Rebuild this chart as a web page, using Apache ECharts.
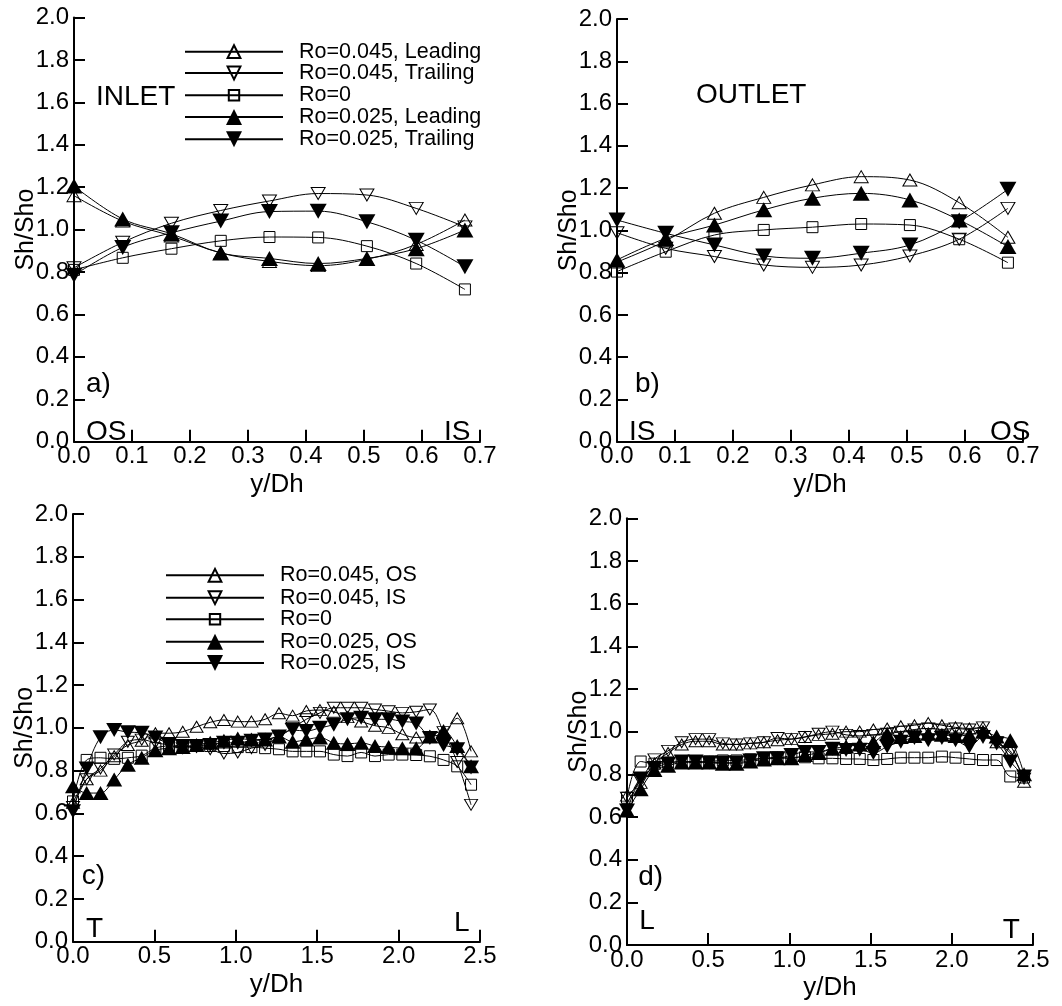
<!DOCTYPE html>
<html><head><meta charset="utf-8">
<script src="https://cdn.jsdelivr.net/npm/echarts@6/dist/echarts.min.js"></script>
<style>html,body{margin:0;padding:0;background:#fff}#c{width:1062px;height:1006px}</style>
</head><body><div id="c"></div><script>
// ---------- data ----------
const xAB = [0, 0.084, 0.168, 0.253, 0.337, 0.421, 0.505, 0.59, 0.674];
const xCD = [0, 0.084, 0.169, 0.253, 0.337, 0.422, 0.506, 0.590, 0.674, 0.759, 0.843, 0.927, 1.012, 1.096, 1.180,
             1.265, 1.349, 1.433, 1.517, 1.602, 1.686, 1.770, 1.855, 1.939, 2.023, 2.108, 2.192, 2.276, 2.360, 2.445];

const namesAB = ['Ro=0.045, Leading', 'Ro=0.045, Trailing', 'Ro=0', 'Ro=0.025, Leading', 'Ro=0.025, Trailing'];
const namesCD = ['Ro=0.045, OS', 'Ro=0.045, IS', 'Ro=0', 'Ro=0.025, OS', 'Ro=0.025, IS'];

// panel a (INLET)
const a045L = [1.16, 1.04, 0.97, 0.89, 0.85, 0.83, 0.86, 0.93, 1.045];
const a045T = [0.82, 0.94, 1.03, 1.09, 1.135, 1.17, 1.163, 1.10, 1.013];
const a0    = [0.81, 0.867, 0.91, 0.947, 0.965, 0.963, 0.922, 0.84, 0.718];
const a025L = [1.205, 1.05, 0.98, 0.89, 0.864, 0.84, 0.864, 0.91, 0.998];
const a025T = [0.785, 0.916, 0.985, 1.04, 1.085, 1.087, 1.037, 0.95, 0.825];

// panel b (OUTLET)
const b045L = [0.85, 0.95, 1.081, 1.156, 1.215, 1.254, 1.238, 1.131, 0.967];
const b045T = [0.989, 0.915, 0.876, 0.836, 0.825, 0.836, 0.879, 0.958, 1.104];
const b0    = [0.805, 0.899, 0.978, 1.002, 1.015, 1.03, 1.025, 0.958, 0.847];
const b025L = [0.86, 0.962, 1.025, 1.097, 1.152, 1.175, 1.144, 1.049, 0.923];
const b025T = [1.049, 0.986, 0.931, 0.879, 0.868, 0.892, 0.931, 1.041, 1.194];

// panel c
const c045OS = [0.65, 0.76, 0.80, 0.867, 0.92, 0.94, 0.975, 0.975, 0.982, 1.005, 1.026, 1.037, 1.029, 1.029, 1.04,
                1.068, 1.057, 1.079, 1.083, 1.075, 1.05, 1.03, 1.01, 1.0, 0.97, 0.955, 0.96, 0.975, 1.045, 0.89];
const c045IS = [0.63, 0.76, 0.81, 0.875, 0.935, 0.945, 0.93, 0.92, 0.905, 0.91, 0.9, 0.88, 0.885, 0.905, 0.92,
                0.96, 1.0, 1.04, 1.07, 1.094, 1.094, 1.094, 1.086, 1.078, 1.07, 1.075, 1.086, 0.98, 0.84, 0.64];
const c0     = [0.656, 0.85, 0.86, 0.855, 0.86, 0.87, 0.905, 0.915, 0.91, 0.915, 0.915, 0.915, 0.91, 0.91, 0.905,
                0.9, 0.89, 0.89, 0.89, 0.875, 0.868, 0.885, 0.868, 0.875, 0.875, 0.873, 0.867, 0.85, 0.82, 0.734];
const c025OS = [0.727, 0.695, 0.695, 0.758, 0.828, 0.86, 0.895, 0.905, 0.91, 0.92, 0.93, 0.94, 0.95, 0.945, 0.945,
                0.96, 0.935, 0.945, 0.955, 0.93, 0.925, 0.93, 0.915, 0.91, 0.905, 0.905, 0.96, 0.985, 0.915, 0.82];
const c025IS = [0.61, 0.81, 0.956, 0.99, 0.98, 0.977, 0.955, 0.925, 0.915, 0.915, 0.92, 0.93, 0.93, 0.94, 0.945,
                0.96, 0.99, 0.985, 1.0, 1.015, 1.04, 1.047, 1.04, 1.04, 1.03, 1.02, 0.953, 0.92, 0.9, 0.815];

// panel d
const d045OS = [0.7, 0.76, 0.85, 0.9, 0.94, 0.955, 0.955, 0.94, 0.94, 0.945, 0.95, 0.96, 0.965, 0.975, 0.985,
                0.99, 1.0, 1.0, 1.01, 1.015, 1.025, 1.03, 1.04, 1.03, 1.02, 1.015, 1.02, 0.95, 0.91, 0.765];
const d045IS = [0.69, 0.77, 0.87, 0.91, 0.95, 0.965, 0.965, 0.945, 0.94, 0.945, 0.95, 0.97, 0.965, 0.975, 0.99,
                1.0, 0.985, 0.98, 0.985, 0.99, 1.0, 1.01, 1.015, 1.01, 1.015, 1.01, 1.02, 0.95, 0.9, 0.78];
const d0     = [0.69, 0.86, 0.85, 0.855, 0.86, 0.86, 0.86, 0.865, 0.865, 0.87, 0.875, 0.88, 0.88, 0.88, 0.875,
                0.875, 0.872, 0.872, 0.867, 0.872, 0.878, 0.878, 0.878, 0.883, 0.878, 0.872, 0.867, 0.867, 0.79, 0.785];
const d025OS = [0.63, 0.73, 0.82, 0.84, 0.855, 0.855, 0.855, 0.85, 0.85, 0.86, 0.87, 0.875, 0.875, 0.89, 0.9,
                0.92, 0.93, 0.94, 0.95, 0.99, 0.975, 0.98, 0.99, 0.985, 0.98, 0.985, 1.0, 0.977, 0.96, 0.8];
const d025IS = [0.63, 0.78, 0.83, 0.85, 0.86, 0.86, 0.855, 0.855, 0.855, 0.865, 0.875, 0.875, 0.89, 0.905, 0.905,
                0.92, 0.914, 0.915, 0.9, 0.93, 0.953, 0.97, 0.96, 0.97, 0.96, 0.93, 0.975, 0.945, 0.86, 0.79];

const yTicksLabel = v => v.toFixed(1);

// ---------- styling ----------
const FONT = 'Liberation Sans, Arial, sans-serif';
const markAB = [
  {symbol: 'triangle', rot: 0,   fill: false, size: [14, 12], leg: 16},
  {symbol: 'triangle', rot: 180, fill: false, size: [14, 12], leg: 16},
  {symbol: 'rect',     rot: 0,   fill: false, size: [11, 11], leg: 13},
  {symbol: 'triangle', rot: 0,   fill: true,  size: [17, 15], leg: 20},
  {symbol: 'triangle', rot: 180, fill: true,  size: [17, 15], leg: 20}
];
const markCD = [
  {symbol: 'triangle', rot: 0,   fill: false, size: [13, 11], leg: 16},
  {symbol: 'triangle', rot: 180, fill: false, size: [13, 11], leg: 16},
  {symbol: 'rect',     rot: 0,   fill: false, size: [11, 11], leg: 13},
  {symbol: 'triangle', rot: 0,   fill: true,  size: [16, 14], leg: 20},
  {symbol: 'triangle', rot: 180, fill: true,  size: [16, 14], leg: 20}
];

const grids = [
  {left: 74,  top: 17.5,  width: 406, height: 424.2},
  {left: 617, top: 19,    width: 406, height: 422.7},
  {left: 73,  top: 514,   width: 407, height: 427.7},
  {left: 627, top: 518.3, width: 406, height: 426.7}
];

function xAxisCfg(gi, max, interval) {
  return {
    type: 'value', gridIndex: gi, min: 0, max: max, interval: interval,
    name: 'y/Dh', nameLocation: 'middle', nameGap: 30,
    nameTextStyle: {fontFamily: FONT, fontSize: 26, color: '#000'},
    axisLine: {show: true, onZero: false, lineStyle: {color: '#000', width: 2}},
    axisTick: {show: true, inside: true, length: 12, lineStyle: {color: '#000', width: 2}},
    axisLabel: {show: true, margin: 3, fontFamily: FONT, fontSize: 24, color: '#000',
                formatter: v => v.toFixed(1)},
    splitLine: {show: false}
  };
}
function yAxisCfg(gi) {
  return {
    type: 'value', gridIndex: gi, min: 0, max: 2, interval: 0.2,
    name: 'Sh/Sho', nameLocation: 'middle', nameGap: 35, nameMoveOverlap: false,
    nameTextStyle: {fontFamily: FONT, fontSize: 25, color: '#000'},
    axisLine: {show: true, onZero: false, lineStyle: {color: '#000', width: 2}},
    axisTick: {show: true, inside: true, length: 11, lineStyle: {color: '#000', width: 2}},
    axisLabel: {show: true, margin: 5, fontFamily: FONT, fontSize: 24, color: '#000',
                formatter: yTicksLabel},
    splitLine: {show: false}
  };
}

function mkSeries(gi, name, xs, ys, m) {
  return {
    type: 'line', name: name, xAxisIndex: gi, yAxisIndex: gi,
    data: xs.map((x, i) => [x, ys[i]]),
    smooth: 0.35,
    symbol: m.symbol, symbolSize: m.size, symbolRotate: m.rot, showAllSymbol: true,
    lineStyle: {color: '#000', width: 1},
    itemStyle: {color: m.fill ? '#000' : 'rgba(255,255,255,0)', borderColor: '#000', borderWidth: m.fill ? 0 : 1},
    emphasis: {disabled: true},
    animation: false
  };
}

const series = [];
[a045L, a045T, a0, a025L, a025T].forEach((ys, k) => series.push(mkSeries(0, namesAB[k], xAB, ys, markAB[k])));
[b045L, b045T, b0, b025L, b025T].forEach((ys, k) => series.push(mkSeries(1, namesAB[k], xAB, ys, markAB[k])));
[c045OS, c045IS, c0, c025OS, c025IS].forEach((ys, k) => series.push(mkSeries(2, namesCD[k], xCD, ys, markCD[k])));
[d045OS, d045IS, d0, d025OS, d025IS].forEach((ys, k) => series.push(mkSeries(3, namesCD[k], xCD, ys, markCD[k])));

const rowsA = [50.7, 72, 94.3, 116, 138.3];
const rowsC = [574.3, 596.7, 618.3, 640.7, 662];
const legends = [];
function mkLegend(name, left, rowY, m) {
  return {
    data: [name], left: left, top: rowY - 10, orient: 'vertical', padding: 0,
    itemWidth: 98, itemHeight: m.leg, selectedMode: false,
    textStyle: {fontFamily: FONT, fontSize: 21.5, color: '#000', lineHeight: 20, padding: [0, 0, 0, 11]}
  };
}
namesAB.forEach((n, k) => legends.push(mkLegend(n, 184, rowsA[k], markAB[k])));
namesCD.forEach((n, k) => legends.push(mkLegend(n, 165, rowsC[k], markCD[k])));

const notes = [
  ['INLET', 96, 82.9], ['a)', 86, 370.2], ['OS', 86, 418.5], ['IS', 444, 418.5],
  ['OUTLET', 696, 80.9], ['b)', 635, 370], ['IS', 629, 418.5], ['OS', 990, 418.5],
  ['c)', 81.7, 862], ['T', 86, 915], ['L', 454, 909.5],
  ['d)', 638.3, 863.5], ['L', 639.3, 907.5], ['T', 1002.7, 916]
];
const graphic = notes.map(n => ({
  type: 'text', left: n[1], top: n[2], silent: true,
  style: {text: n[0], x: 0, y: 0, fill: '#000', font: '28px ' + FONT, verticalAlign: 'middle'}
}));

const chart = echarts.init(document.getElementById('c'), null, {renderer: 'canvas'});
chart.setOption({
  backgroundColor: '#fff',
  animation: false,
  grid: grids,
  xAxis: [xAxisCfg(0, 0.7, 0.1), xAxisCfg(1, 0.7, 0.1), xAxisCfg(2, 2.5, 0.5), xAxisCfg(3, 2.5, 0.5)],
  yAxis: [yAxisCfg(0), yAxisCfg(1), yAxisCfg(2), yAxisCfg(3)],
  legend: legends,
  series: series,
  graphic: graphic
});
</script></body></html>
